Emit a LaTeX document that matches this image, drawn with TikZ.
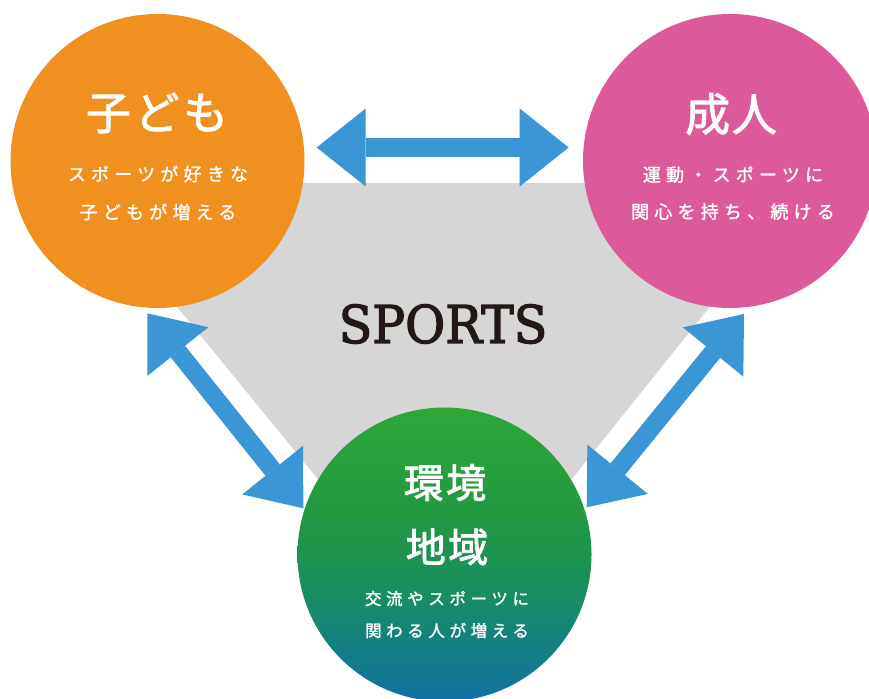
\documentclass[tikz,border=0pt]{standalone}
\usepackage{fontspec}
\usetikzlibrary{arrows.meta}
\newfontfamily\jp{Noto Sans CJK JP}
\newfontfamily\sportsfont[FakeStretch=0.94,FakeBold=2.5]{DejaVu Serif}
\definecolor{kidorange}{HTML}{F0901E}
\definecolor{adultpink}{HTML}{DD5A9A}
\definecolor{arrowblue}{HTML}{3A96D4}
\definecolor{trigrey}{HTML}{D6D6D6}
\definecolor{sportsdark}{HTML}{231815}
\definecolor{gbA}{HTML}{2EA73A}
\definecolor{gbB}{HTML}{22993E}
\definecolor{gbC}{HTML}{178C66}
\definecolor{gbD}{HTML}{1170A4}
\pgfdeclareverticalshading{greenblue}{100bp}{color(0bp)=(gbD); color(25bp)=(gbD); color(42bp)=(gbC); color(57bp)=(gbB); color(75bp)=(gbA); color(100bp)=(gbA)}
\newcommand\jpfont[3]{\jp\fontsize{#2}{#2}\selectfont\addfontfeature{LetterSpace=#3,FakeBold=#1}}
\begin{document}
\begin{tikzpicture}[x=1pt,y=-1pt,
  bub/.style={circle, minimum size=294pt, inner sep=0pt, draw=none},
  dblarrow/.style={line width=18.4pt, draw=arrowblue,
    {Triangle[length=49pt,width=78pt,line width=0pt]}-{Triangle[length=49pt,width=78pt,line width=0pt]}},
  whitetxt/.style={text=white, inner sep=0pt, align=center},
]
\clip (0,0) rectangle (869,698);
\fill[white] (0,0) rectangle (869,698);
% grey triangle
\fill[trigrey] (76,183) coordinate (tl) -- (809,183) coordinate (tr) -- (446,636) coordinate (tb) -- cycle;
\node[text=sportsdark, inner sep=0pt, font={\sportsfont\fontsize{52}{52}\selectfont}] (sports) at (443,324) {SPORTS};
% arrows
\coordinate (h1) at (316.7,147.5);
\coordinate (h2) at (568.7,147.5);
\coordinate (l1) at (147.3,313.3);
\coordinate (l2) at (303.3,508.3);
\coordinate (r1) at (744,314);
\coordinate (r2) at (586.7,507.3);
\draw[dblarrow] (h1) -- (h2);
\draw[dblarrow] (l1) -- (l2);
\draw[dblarrow] (r1) -- (r2);
% circles
\node[bub, fill=kidorange] (kids) at (157.5,161) {};
\node[bub, fill=adultpink] (adult) at (730,161) {};
\node[bub, shade, shading=greenblue] (env) at (444.5,554.5) {};
% texts
\node[whitetxt, font={\jpfont{2}{45}{8}}] (kidsT) at (157,113) {子ども};
\node[whitetxt, font={\jpfont{1.5}{18}{29}}, execute at begin node={\baselineskip=38pt}] (kidsS) at (158,193) {スポーツが好きな\\子どもが増える};
\node[whitetxt, font={\jpfont{2}{45}{4}}] (adultT) at (731,114) {成人};
\node[whitetxt, font={\jpfont{1.5}{18}{29}}, execute at begin node={\baselineskip=37pt}] (adultS) at (733,193) {運動・スポーツに\\関心を持ち、続ける};
\node[whitetxt, font={\jpfont{2}{40}{6}}] (envT1) at (445,482.5) {環境};
\node[whitetxt, font={\jpfont{2}{40}{6}}] (envT2) at (447,547) {地域};
\node[whitetxt, font={\jpfont{1.5}{16.5}{28}}, execute at begin node={\baselineskip=32pt}] (envS) at (447,614.5) {交流やスポーツに\\関わる人が増える};
\end{tikzpicture}
\end{document}
